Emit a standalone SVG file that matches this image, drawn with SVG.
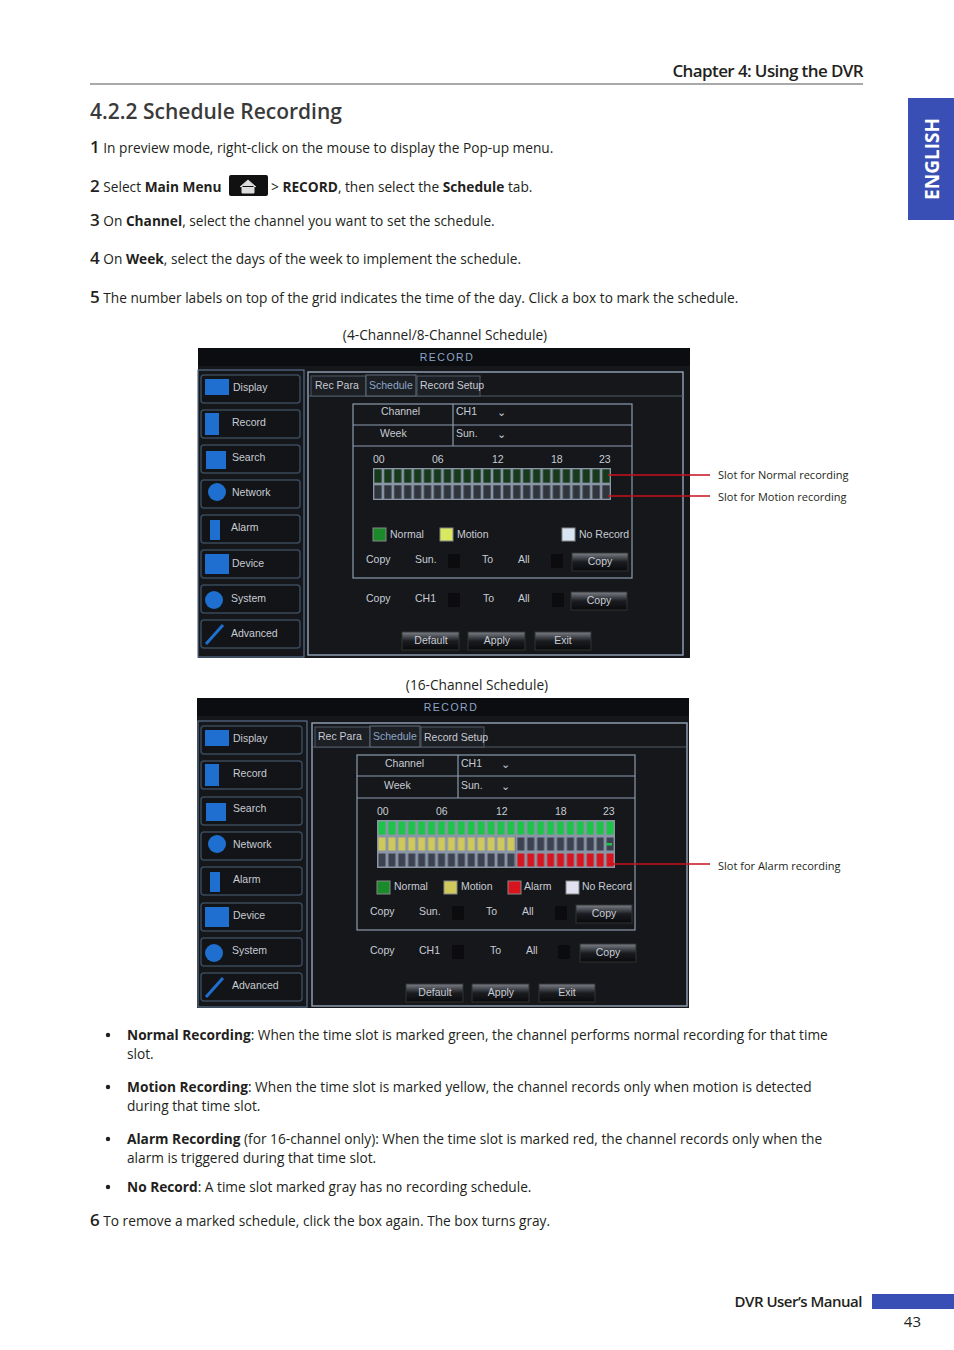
<svg xmlns="http://www.w3.org/2000/svg" width="954" height="1350" viewBox="0 0 954 1350">
<style>
.t{font-family:"Open Sans","Noto Sans",sans-serif;font-size:13.7px;fill:#231f20}
.b{font-weight:bold}
.n{font-family:"Open Sans",sans-serif;font-size:17px;font-weight:600;fill:#231f20}
.s{font-family:"Liberation Sans",sans-serif;font-size:10.5px;fill:#c8ccd4}
.m{font-family:"Liberation Sans",sans-serif;font-size:10.5px;fill:#8ea6c8}
.lb{font-family:"Open Sans",sans-serif;font-size:11px;fill:#231f20}
.btn{fill:#121417;stroke:#3a4a5a;stroke-width:1.5}
.bx{fill:none;stroke:#8c9cb0;stroke-width:1.2}
.ic{fill:#1e6fd0}
.pb{fill:url(#btng);stroke:#333}
.rl{stroke:#c8101e;stroke-width:1.5}
</style>
<defs>
<linearGradient id="btng" x1="0" y1="0" x2="0" y2="1"><stop offset="0" stop-color="#7c8088"/><stop offset="0.5" stop-color="#1a1c20"/><stop offset="1" stop-color="#0a0a0c"/></linearGradient>
<pattern id="pgd" patternUnits="userSpaceOnUse" x="373" y="468" width="9.917" height="16"><rect width="9.917" height="16" fill="#8a96a6"/><rect x="1.3" y="1.3" width="7.3" height="13.4" fill="#183a1c"/></pattern>
<pattern id="pgy1" patternUnits="userSpaceOnUse" x="373" y="484" width="9.917" height="16"><rect width="9.917" height="16" fill="#8a96a6"/><rect x="1.3" y="1.3" width="7.3" height="13.4" fill="#30343c"/></pattern>
<pattern id="pg" patternUnits="userSpaceOnUse" x="377" y="820" width="9.917" height="16"><rect width="9.917" height="16" fill="#8a96a6"/><rect x="1.5" y="1.5" width="7" height="13" fill="#1ec44a"/></pattern>
<pattern id="py" patternUnits="userSpaceOnUse" x="377" y="836" width="9.917" height="16"><rect width="9.917" height="16" fill="#8a96a6"/><rect x="1.5" y="1.5" width="7" height="13" fill="#cfc85a"/></pattern>
<pattern id="pgr" patternUnits="userSpaceOnUse" x="377" y="836" width="9.917" height="16"><rect width="9.917" height="16" fill="#8a96a6"/><rect x="1.5" y="1.5" width="7" height="13" fill="#3c4250"/></pattern>
<pattern id="pr" patternUnits="userSpaceOnUse" x="377" y="852" width="9.917" height="16"><rect width="9.917" height="16" fill="#8a96a6"/><rect x="1.5" y="1.5" width="7" height="13" fill="#d8141e"/></pattern>
</defs>
<rect width="954" height="1350" fill="#fff"/>
<text x="863" y="77" text-anchor="end" font-family="Open Sans,sans-serif" font-weight="600" font-size="17" fill="#231f20" style="letter-spacing:-0.6px">Chapter 4: Using the DVR</text>
<line x1="90" y1="84" x2="863" y2="84" stroke="#555" stroke-width="1.2"/>
<rect x="908" y="98" width="46" height="122" fill="#3a4fb5"/>
<text transform="translate(939,159) rotate(-90)" text-anchor="middle" font-family="Open Sans,sans-serif" font-weight="bold" font-size="19" fill="#fff">ENGLISH</text>
<text x="90" y="119" font-family="Open Sans,sans-serif" font-weight="600" font-size="21" fill="#3a3a3a">4.2.2 Schedule Recording</text>
<text x="90" y="153" class="t"><tspan class="n">1</tspan> In preview mode, right-click on the mouse to display the Pop-up menu.</text>
<text x="90" y="192" class="t"><tspan class="n">2</tspan> Select <tspan class="b">Main Menu</tspan></text>
<rect x="229" y="175" width="39" height="21" rx="2" fill="#111"/>
<path d="M240 187 L248 180 L256 187 M242 186 V193 H254 V186" fill="#ddd" stroke="#ddd"/>
<text x="271" y="192" class="t">&gt; <tspan class="b">RECORD</tspan>, then select the <tspan class="b">Schedule</tspan> tab.</text>
<text x="90" y="226" class="t"><tspan class="n">3</tspan> On <tspan class="b">Channel</tspan>, select the channel you want to set the schedule.</text>
<text x="90" y="264" class="t"><tspan class="n">4</tspan> On <tspan class="b">Week</tspan>, select the days of the week to implement the schedule.</text>
<text x="90" y="303" class="t"><tspan class="n">5</tspan> The number labels on top of the grid indicates the time of the day. Click a box to mark the schedule.</text>
<text x="445" y="340" class="t" text-anchor="middle">(4-Channel/8-Channel Schedule)</text>
<text x="477" y="690" class="t" text-anchor="middle">(16-Channel Schedule)</text>

<g id="screen1">
<rect x="198" y="348" width="492" height="310" fill="#15171b"/>
<rect x="198" y="348" width="492" height="18" fill="#0c0d10"/>
<text x="447" y="361" class="m" text-anchor="middle" style="letter-spacing:1.5px">RECORD</text>
<rect x="198" y="370" width="106" height="287" fill="none" stroke="#5a7090" stroke-width="1.2"/>
<g>
<rect class="btn" x="201" y="375" width="99" height="28" rx="3"/><rect class="ic" x="205" y="379" width="24" height="16"/><text class="s" x="233" y="391">Display</text>
<rect class="btn" x="201" y="410" width="99" height="28" rx="3" stroke="#2a7ad0"/><rect class="ic" x="205" y="413" width="14" height="22"/><text class="s" x="232" y="426">Record</text>
<rect class="btn" x="201" y="445" width="99" height="28" rx="3"/><rect class="ic" x="206" y="451" width="20" height="18"/><text class="s" x="232" y="461">Search</text>
<rect class="btn" x="201" y="480" width="99" height="28" rx="3"/><circle class="ic" cx="217" cy="492" r="9"/><text class="s" x="232" y="496">Network</text>
<rect class="btn" x="201" y="515" width="99" height="28" rx="3"/><rect class="ic" x="210" y="520" width="10" height="20"/><text class="s" x="231" y="531">Alarm</text>
<rect class="btn" x="201" y="550" width="99" height="28" rx="3"/><rect class="ic" x="205" y="554" width="24" height="20"/><text class="s" x="232" y="567">Device</text>
<rect class="btn" x="201" y="585" width="99" height="28" rx="3"/><circle class="ic" cx="214" cy="600" r="9"/><text class="s" x="231" y="602">System</text>
<rect class="btn" x="201" y="620" width="99" height="28" rx="3"/><path d="M206 644 L223 625" stroke="#1e6fd0" stroke-width="3"/><text class="s" x="231" y="637">Advanced</text>
</g>
<rect x="308" y="372" width="375" height="283" fill="none" stroke="#8c9cb0" stroke-width="1.5"/>
<line x1="309" y1="396" x2="683" y2="396" stroke="#505a66"/>
<rect x="311" y="376" width="55" height="20" fill="#1c1f24" stroke="#505a66"/><text class="s" x="315" y="389">Rec Para</text>
<rect x="366" y="375" width="50" height="21" fill="#1c1f24" stroke="#607080"/><text class="m" x="369" y="389">Schedule</text>
<rect x="417" y="376" width="63" height="20" fill="#1c1f24" stroke="#505a66"/><text class="s" x="420" y="389" font-size="9">Record Setup</text>
<rect class="bx" x="353" y="404" width="279" height="174"/>
<line class="bx" x1="353" y1="425" x2="632" y2="425"/><line class="bx" x1="353" y1="446" x2="632" y2="446"/><line class="bx" x1="453" y1="404" x2="453" y2="446"/>
<text class="s" x="381" y="415">Channel</text><text class="s" x="456" y="415">CH1</text><text class="s" x="497" y="416" font-size="8">⌄</text>
<text class="s" x="380" y="437">Week</text><text class="s" x="456" y="437">Sun.</text><text class="s" x="497" y="438" font-size="8">⌄</text>
<text class="s" x="373" y="463">00</text><text class="s" x="432" y="463">06</text><text class="s" x="492" y="463">12</text><text class="s" x="551" y="463">18</text><text class="s" x="599" y="463">23</text>
<rect x="373" y="468" width="238" height="16" fill="url(#pgd)"/>
<rect x="373" y="484" width="238" height="16" fill="url(#pgy1)"/>
<rect x="373" y="528" width="13" height="13" fill="#1a8a2a" stroke="#888"/><text class="s" x="390" y="538">Normal</text>
<rect x="440" y="528" width="13" height="13" fill="#d8e860" stroke="#888"/><text class="s" x="457" y="538">Motion</text>
<rect x="562" y="528" width="13" height="13" fill="#d8e4f0" stroke="#888"/><text class="s" x="579" y="538">No Record</text>
<text class="s" x="366" y="563">Copy</text><text class="s" x="415" y="563">Sun.</text><rect x="448" y="554" width="12" height="14" fill="#0c0c0e"/><text class="s" x="482" y="563">To</text><text class="s" x="518" y="563">All</text><rect x="551" y="554" width="12" height="14" fill="#0c0c0e"/>
<rect class="pb" x="572" y="553" width="56" height="18"/><text class="s" x="600" y="565" text-anchor="middle">Copy</text>
<text class="s" x="366" y="602">Copy</text><text class="s" x="415" y="602">CH1</text><rect x="448" y="593" width="12" height="14" fill="#0c0c0e"/><text class="s" x="483" y="602">To</text><text class="s" x="518" y="602">All</text><rect x="552" y="593" width="12" height="14" fill="#0c0c0e"/>
<rect class="pb" x="571" y="592" width="56" height="18"/><text class="s" x="599" y="604" text-anchor="middle">Copy</text>
<rect class="pb" x="402" y="632" width="57" height="18"/><text class="s" x="431" y="644" text-anchor="middle">Default</text>
<rect class="pb" x="468" y="632" width="57" height="18"/><text class="s" x="497" y="644" text-anchor="middle">Apply</text>
<rect class="pb" x="535" y="632" width="56" height="18"/><text class="s" x="563" y="644" text-anchor="middle">Exit</text>
</g>

<g id="screen2">
<rect x="197" y="698" width="492" height="310" fill="#15171b"/>
<rect x="197" y="698" width="492" height="18" fill="#0c0d10"/>
<text x="451" y="711" class="m" text-anchor="middle" style="letter-spacing:1.5px">RECORD</text>
<rect x="198" y="721" width="109" height="286" fill="none" stroke="#5a7090" stroke-width="1.2"/>
<g>
<rect class="btn" x="201" y="726" width="101" height="28" rx="3"/><rect class="ic" x="205" y="730" width="24" height="16"/><text class="s" x="233" y="742">Display</text>
<rect class="btn" x="201" y="761" width="101" height="28" rx="3" stroke="#2a7ad0"/><rect class="ic" x="205" y="764" width="14" height="22"/><text class="s" x="233" y="777">Record</text>
<rect class="btn" x="201" y="797" width="101" height="28" rx="3"/><rect class="ic" x="206" y="803" width="20" height="18"/><text class="s" x="233" y="812">Search</text>
<rect class="btn" x="201" y="832" width="101" height="28" rx="3"/><circle class="ic" cx="217" cy="844" r="9"/><text class="s" x="233" y="848">Network</text>
<rect class="btn" x="201" y="867" width="101" height="28" rx="3"/><rect class="ic" x="210" y="872" width="10" height="20"/><text class="s" x="233" y="883">Alarm</text>
<rect class="btn" x="201" y="903" width="101" height="28" rx="3"/><rect class="ic" x="205" y="907" width="24" height="20"/><text class="s" x="233" y="919">Device</text>
<rect class="btn" x="201" y="938" width="101" height="28" rx="3"/><circle class="ic" cx="214" cy="953" r="9"/><text class="s" x="232" y="954">System</text>
<rect class="btn" x="201" y="973" width="101" height="28" rx="3"/><path d="M206 997 L223 978" stroke="#1e6fd0" stroke-width="3"/><text class="s" x="232" y="989">Advanced</text>
</g>
<rect x="312" y="723" width="375" height="283" fill="none" stroke="#8c9cb0" stroke-width="1.5"/>
<line x1="313" y1="747" x2="686" y2="747" stroke="#505a66"/>
<rect x="315" y="727" width="55" height="20" fill="#1c1f24" stroke="#505a66"/><text class="s" x="318" y="740">Rec Para</text>
<rect x="370" y="726" width="50" height="21" fill="#1c1f24" stroke="#607080"/><text class="m" x="373" y="740">Schedule</text>
<rect x="421" y="727" width="63" height="20" fill="#1c1f24" stroke="#505a66"/><text class="s" x="424" y="741" font-size="9">Record Setup</text>
<rect class="bx" x="357" y="755" width="278" height="175"/>
<line class="bx" x1="357" y1="776" x2="635" y2="776"/><line class="bx" x1="357" y1="798" x2="635" y2="798"/><line class="bx" x1="458" y1="755" x2="458" y2="798"/>
<text class="s" x="385" y="767">Channel</text><text class="s" x="461" y="767">CH1</text><text class="s" x="501" y="768" font-size="8">⌄</text>
<text class="s" x="384" y="789">Week</text><text class="s" x="461" y="789">Sun.</text><text class="s" x="501" y="790" font-size="8">⌄</text>
<text class="s" x="377" y="815">00</text><text class="s" x="436" y="815">06</text><text class="s" x="496" y="815">12</text><text class="s" x="555" y="815">18</text><text class="s" x="603" y="815">23</text>
<rect x="377" y="820" width="238" height="16" fill="url(#pg)"/>
<rect x="377" y="836" width="138.8" height="16" fill="url(#py)"/>
<rect x="515.8" y="836" width="99.2" height="16" fill="url(#pgr)"/>
<rect x="606" y="843" width="6" height="2.5" fill="#1ec44a"/>
<rect x="377" y="852" width="138.8" height="16" fill="url(#pgr)"/>
<rect x="515.8" y="852" width="99.2" height="16" fill="url(#pr)"/>
<rect x="377" y="881" width="13" height="13" fill="#1a8a2a" stroke="#888"/><text class="s" x="394" y="890">Normal</text>
<rect x="444" y="881" width="13" height="13" fill="#cfc85a" stroke="#888"/><text class="s" x="461" y="890">Motion</text>
<rect x="508" y="881" width="13" height="13" fill="#d8141e" stroke="#888"/><text class="s" x="524" y="890">Alarm</text>
<rect x="566" y="881" width="13" height="13" fill="#e0e0f0" stroke="#888"/><text class="s" x="582" y="890">No Record</text>
<text class="s" x="370" y="915">Copy</text><text class="s" x="419" y="915">Sun.</text><rect x="452" y="906" width="12" height="14" fill="#0c0c0e"/><text class="s" x="486" y="915">To</text><text class="s" x="522" y="915">All</text><rect x="555" y="906" width="12" height="14" fill="#0c0c0e"/>
<rect class="pb" x="576" y="905" width="56" height="18"/><text class="s" x="604" y="917" text-anchor="middle">Copy</text>
<text class="s" x="370" y="954">Copy</text><text class="s" x="419" y="954">CH1</text><rect x="452" y="945" width="12" height="14" fill="#0c0c0e"/><text class="s" x="490" y="954">To</text><text class="s" x="526" y="954">All</text><rect x="558" y="945" width="12" height="14" fill="#0c0c0e"/>
<rect class="pb" x="580" y="944" width="56" height="18"/><text class="s" x="608" y="956" text-anchor="middle">Copy</text>
<rect class="pb" x="406" y="984" width="57" height="18"/><text class="s" x="435" y="996" text-anchor="middle">Default</text>
<rect class="pb" x="472" y="984" width="57" height="18"/><text class="s" x="501" y="996" text-anchor="middle">Apply</text>
<rect class="pb" x="539" y="984" width="56" height="18"/><text class="s" x="567" y="996" text-anchor="middle">Exit</text>
</g>

<g id="connectors">
<line class="rl" x1="608" y1="475" x2="710" y2="475"/>
<line class="rl" x1="608" y1="496" x2="710" y2="496"/>
<line class="rl" x1="608" y1="864" x2="710" y2="864"/>
</g>
<text class="lb" x="718" y="479">Slot for Normal recording</text>
<text class="lb" x="718" y="501">Slot for Motion recording</text>
<text class="lb" x="718" y="870">Slot for Alarm recording</text>

<g>
<circle cx="108" cy="1035" r="2.2" fill="#231f20"/>
<text x="127" y="1040" class="t"><tspan class="b">Normal Recording</tspan>: When the time slot is marked green, the channel performs normal recording for that time</text>
<text x="127" y="1059" class="t">slot.</text>
<circle cx="108" cy="1087" r="2.2" fill="#231f20"/>
<text x="127" y="1092" class="t"><tspan class="b">Motion Recording</tspan>: When the time slot is marked yellow, the channel records only when motion is detected</text>
<text x="127" y="1111" class="t">during that time slot.</text>
<circle cx="108" cy="1139" r="2.2" fill="#231f20"/>
<text x="127" y="1144" class="t"><tspan class="b">Alarm Recording</tspan> (for 16-channel only): When the time slot is marked red, the channel records only when the</text>
<text x="127" y="1163" class="t">alarm is triggered during that time slot.</text>
<circle cx="108" cy="1187" r="2.2" fill="#231f20"/>
<text x="127" y="1192" class="t"><tspan class="b">No Record</tspan>: A time slot marked gray has no recording schedule.</text>
</g>
<text x="90" y="1226" class="t"><tspan class="n">6</tspan> To remove a marked schedule, click the box again. The box turns gray.</text>
<text x="862" y="1307" text-anchor="end" font-family="Open Sans,sans-serif" font-weight="600" font-size="15" fill="#231f20" style="letter-spacing:-0.5px">DVR User’s Manual</text>
<rect x="872" y="1294" width="82" height="15" fill="#3a4fb5"/>
<text x="921" y="1327" text-anchor="end" font-family="Open Sans,sans-serif" font-size="15" fill="#231f20">43</text>
</svg>
